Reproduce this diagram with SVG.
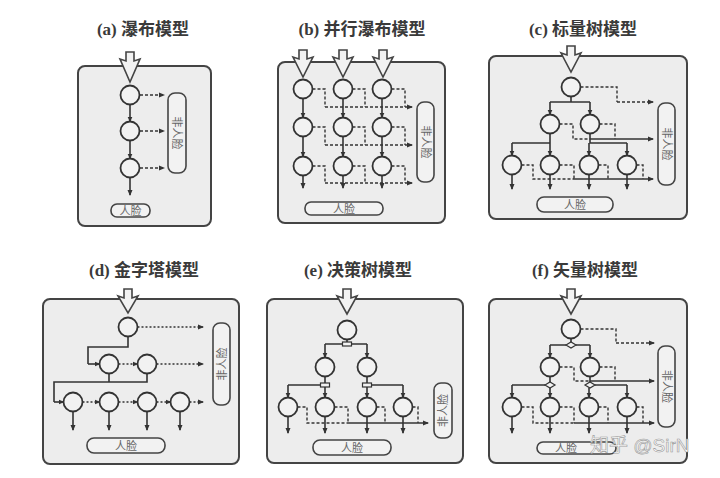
<svg xmlns="http://www.w3.org/2000/svg" width="720" height="478" viewBox="0 0 720 478">
<style>
.bg{fill:#ffffff}
.box{fill:#ededed;stroke:#444;stroke-width:2}
.n{fill:#f2f2f2;stroke:#333;stroke-width:1.8}
.s{stroke:#333;stroke-width:1.6;fill:none}
.d{stroke:#333;stroke-width:1.4;stroke-dasharray:3 2;fill:none}
.o{stroke:#333;stroke-width:1.4;stroke-dasharray:2 2;fill:none}
.lb{fill:#f2f2f2;stroke:#444;stroke-width:1.6}
.fa{fill:#f2f2f2;stroke:#444;stroke-width:1.6;stroke-linejoin:miter}
.gate{fill:#f2f2f2;stroke:#333;stroke-width:1.2}
.title{font-family:"Liberation Serif","Noto Sans CJK SC",serif;font-size:17px;font-weight:bold;fill:#3a3a3a;text-anchor:middle}
.lt{font-family:"Liberation Sans","Noto Sans CJK SC",sans-serif;font-size:11px;fill:#666;text-anchor:middle;dominant-baseline:central}
.wm{font-family:"Liberation Sans","Noto Sans CJK SC",sans-serif;font-size:19px;fill:#ffffff;stroke:#999;stroke-width:0.6}
</style>
<defs>
<marker id="ah" markerWidth="6" markerHeight="6" refX="5" refY="3" orient="auto" markerUnits="userSpaceOnUse"><path d="M0,0.5 L6,3 L0,5.5z" fill="#333"/></marker>
</defs>
<rect class="bg" x="0" y="0" width="720" height="478"/>

<!-- Titles -->
<text class="title" x="143" y="35">(a) 瀑布模型</text>
<text class="title" x="362" y="35">(b) 并行瀑布模型</text>
<text class="title" x="583" y="35">(c) 标量树模型</text>
<text class="title" x="144" y="276">(d) 金字塔模型</text>
<text class="title" x="358" y="276">(e) 决策树模型</text>
<text class="title" x="585" y="276">(f) 矢量树模型</text>

<!-- ===== (a) ===== -->
<g id="panel-a">
<rect class="box" x="78" y="66" width="133" height="160" rx="7"/>
<polygon class="fa" points="126,52 134,52 134,61 140,59 130,82 120,59 126,61"/>
<g id="a-connectors">
<line class="s" x1="130" y1="104.5" x2="130" y2="121.5" marker-end="url(#ah)"/>
<line class="s" x1="130" y1="140.5" x2="130" y2="158.5" marker-end="url(#ah)"/>
<line class="s" x1="130" y1="177.5" x2="130" y2="195" marker-end="url(#ah)"/>
<line class="d" x1="140" y1="95" x2="164" y2="95" marker-end="url(#ah)"/>
<line class="d" x1="140" y1="131" x2="164" y2="131" marker-end="url(#ah)"/>
<line class="d" x1="140" y1="168" x2="164" y2="168" marker-end="url(#ah)"/>
</g>
<g id="a-n1"><circle class="n" cx="130" cy="95" r="9.5"/></g>
<g id="a-n2"><circle class="n" cx="130" cy="131" r="9.5"/></g>
<g id="a-n3"><circle class="n" cx="130" cy="168" r="9.5"/></g>
<g id="a-nonface"><rect class="lb" x="168" y="93" width="18" height="80" rx="7"/><text class="lt" transform="translate(177,133) rotate(90)">非人脸</text></g>
<g id="a-face"><rect class="lb" x="111" y="204" width="39" height="13" rx="6"/><text class="lt" x="130.5" y="210.5">人脸</text></g>
</g>

<!-- ===== (b) ===== -->
<g id="panel-b">
<rect class="box" x="278" y="62" width="167" height="161" rx="7"/>
<polygon class="fa" points="299,50 307,50 307,59 313,57 303,77 293,57 299,59"/>
<polygon class="fa" points="339,50 347,50 347,59 353,57 343,77 333,57 339,59"/>
<polygon class="fa" points="379,50 387,50 387,59 393,57 383,77 373,57 379,59"/>
<g id="b-connectors">
<line class="s" x1="303" y1="98.5" x2="303" y2="117.5" marker-end="url(#ah)"/>
<line class="s" x1="303" y1="136.5" x2="303" y2="156.5" marker-end="url(#ah)"/>
<line class="s" x1="303" y1="175.5" x2="303" y2="188" marker-end="url(#ah)"/>
<line class="s" x1="343" y1="98.5" x2="343" y2="117.5" marker-end="url(#ah)"/>
<line class="s" x1="343" y1="136.5" x2="343" y2="156.5" marker-end="url(#ah)"/>
<line class="s" x1="343" y1="175.5" x2="343" y2="188" marker-end="url(#ah)"/>
<line class="s" x1="382" y1="98.5" x2="382" y2="117.5" marker-end="url(#ah)"/>
<line class="s" x1="382" y1="136.5" x2="382" y2="156.5" marker-end="url(#ah)"/>
<line class="s" x1="382" y1="175.5" x2="382" y2="188" marker-end="url(#ah)"/>
<path class="d" d="M312.5,89 H325 V107 M352.5,89 H365 V107 M391.5,89 H405 V107"/>
<line class="d" x1="325" y1="107" x2="412" y2="107" marker-end="url(#ah)"/>
<path class="d" d="M312.5,127 H325 V145 M352.5,127 H365 V145 M391.5,127 H405 V145"/>
<line class="d" x1="325" y1="145" x2="412" y2="145" marker-end="url(#ah)"/>
<path class="d" d="M312.5,166 H325 V183 M352.5,166 H365 V183 M391.5,166 H405 V183"/>
<line class="d" x1="325" y1="183" x2="412" y2="183" marker-end="url(#ah)"/>
</g>
<g id="b-n11"><circle class="n" cx="303" cy="89" r="9.5"/></g>
<g id="b-n12"><circle class="n" cx="343" cy="89" r="9.5"/></g>
<g id="b-n13"><circle class="n" cx="382" cy="89" r="9.5"/></g>
<g id="b-n21"><circle class="n" cx="303" cy="127" r="9.5"/></g>
<g id="b-n22"><circle class="n" cx="343" cy="127" r="9.5"/></g>
<g id="b-n23"><circle class="n" cx="382" cy="127" r="9.5"/></g>
<g id="b-n31"><circle class="n" cx="303" cy="166" r="9.5"/></g>
<g id="b-n32"><circle class="n" cx="343" cy="166" r="9.5"/></g>
<g id="b-n33"><circle class="n" cx="382" cy="166" r="9.5"/></g>
<g id="b-nonface"><rect class="lb" x="417" y="102" width="17" height="80" rx="7"/><text class="lt" transform="translate(425.5,142) rotate(90)">非人脸</text></g>
<g id="b-face"><rect class="lb" x="305" y="202" width="78" height="13" rx="6"/><text class="lt" x="344" y="208.5">人脸</text></g>
</g>

<!-- ===== (c) ===== -->
<g id="panel-c">
<rect class="box" x="489" y="56" width="198" height="163" rx="7"/>
<polygon class="fa" points="567,46 575,46 575,55 581,53 571,72 561,53 567,55"/>
<g id="c-connectors">
<path class="s" d="M571,96.5 V102 M550,102 H590 M550,133.5 V143 M512,143 H550 M590,133.5 V143 H627"/>
<line class="s" x1="550" y1="102" x2="550" y2="114.5" marker-end="url(#ah)"/>
<line class="s" x1="590" y1="102" x2="590" y2="114.5" marker-end="url(#ah)"/>
<line class="s" x1="512" y1="143" x2="512" y2="155.5" marker-end="url(#ah)"/>
<line class="s" x1="550" y1="143" x2="550" y2="155.5" marker-end="url(#ah)"/>
<line class="s" x1="589" y1="143" x2="589" y2="155.5" marker-end="url(#ah)"/>
<line class="s" x1="627" y1="143" x2="627" y2="155.5" marker-end="url(#ah)"/>
<path class="d" d="M580.5,87 H617 V102"/>
<line class="d" x1="617" y1="102" x2="653" y2="102" marker-end="url(#ah)"/>
<path class="d" d="M559.5,124 H573 V139 H590 M599.5,124 H615 V139"/>
<line class="s" x1="590" y1="139" x2="653" y2="139" marker-end="url(#ah)"/>
<path class="d" d="M521.5,165 H533 V179 H574 M559.5,165 H574 V179 M598.5,165 H608 V179 M636.5,165 H643 V179"/>
<line class="s" x1="574" y1="179" x2="653" y2="179" marker-end="url(#ah)"/>
<line class="s" x1="512" y1="174.5" x2="512" y2="189" marker-end="url(#ah)"/>
<line class="s" x1="550" y1="174.5" x2="550" y2="189" marker-end="url(#ah)"/>
<line class="s" x1="589" y1="174.5" x2="589" y2="189" marker-end="url(#ah)"/>
<line class="s" x1="627" y1="174.5" x2="627" y2="189" marker-end="url(#ah)"/>
</g>
<g id="c-root"><circle class="n" cx="571" cy="87" r="9.5"/></g>
<g id="c-l2a"><circle class="n" cx="550" cy="124" r="9.5"/></g>
<g id="c-l2b"><circle class="n" cx="590" cy="124" r="9.5"/></g>
<g id="c-l3a"><circle class="n" cx="512" cy="165" r="9.5"/></g>
<g id="c-l3b"><circle class="n" cx="550" cy="165" r="9.5"/></g>
<g id="c-l3c"><circle class="n" cx="589" cy="165" r="9.5"/></g>
<g id="c-l3d"><circle class="n" cx="627" cy="165" r="9.5"/></g>
<g id="c-nonface"><rect class="lb" x="658" y="103" width="17" height="82" rx="7"/><text class="lt" transform="translate(666.5,144) rotate(90)">非人脸</text></g>
<g id="c-face"><rect class="lb" x="537" y="197" width="76" height="15" rx="7"/><text class="lt" x="575" y="204.5">人脸</text></g>
</g>

<!-- ===== (d) ===== -->
<g id="panel-d">
<rect class="box" x="43" y="299" width="196" height="165" rx="7"/>
<polygon class="fa" points="124,289 132,289 132,298 138,296 128,313 118,296 124,298"/>
<g id="d-connectors">
<path class="s" d="M128,336.5 V347 H88 V364"/>
<line class="s" x1="88" y1="364" x2="99.5" y2="364" marker-end="url(#ah)"/>
<path class="s" d="M109,373.5 V382 M147,373.5 V382 H54 V402"/>
<line class="s" x1="54" y1="402" x2="63.5" y2="402" marker-end="url(#ah)"/>
<line class="o" x1="137.5" y1="327" x2="203" y2="327" marker-end="url(#ah)"/>
<line class="o" x1="118.5" y1="364" x2="137.5" y2="364" marker-end="url(#ah)"/>
<line class="o" x1="156.5" y1="364" x2="203" y2="364" marker-end="url(#ah)"/>
<line class="o" x1="82.5" y1="402" x2="99.5" y2="402" marker-end="url(#ah)"/>
<line class="o" x1="118.5" y1="402" x2="137.5" y2="402" marker-end="url(#ah)"/>
<line class="o" x1="156.5" y1="402" x2="170.5" y2="402" marker-end="url(#ah)"/>
<line class="o" x1="189.5" y1="402" x2="203" y2="402" marker-end="url(#ah)"/>
<line class="s" x1="73" y1="411.5" x2="73" y2="430" marker-end="url(#ah)"/>
<line class="s" x1="109" y1="411.5" x2="109" y2="430" marker-end="url(#ah)"/>
<line class="s" x1="147" y1="411.5" x2="147" y2="430" marker-end="url(#ah)"/>
<line class="s" x1="180" y1="411.5" x2="180" y2="430" marker-end="url(#ah)"/>
</g>
<g id="d-root"><circle class="n" cx="128" cy="327" r="9.5"/></g>
<g id="d-l2a"><circle class="n" cx="109" cy="364" r="9.5"/></g>
<g id="d-l2b"><circle class="n" cx="147" cy="364" r="9.5"/></g>
<g id="d-l3a"><circle class="n" cx="73" cy="402" r="9.5"/></g>
<g id="d-l3b"><circle class="n" cx="109" cy="402" r="9.5"/></g>
<g id="d-l3c"><circle class="n" cx="147" cy="402" r="9.5"/></g>
<g id="d-l3d"><circle class="n" cx="180" cy="402" r="9.5"/></g>
<g id="d-nonface"><rect class="lb" x="213" y="323" width="17" height="82" rx="7"/><text class="lt" transform="translate(221.5,364) rotate(-90)">非人脸</text></g>
<g id="d-face"><rect class="lb" x="87" y="438" width="78" height="15" rx="7"/><text class="lt" x="126" y="445.5">人脸</text></g>
</g>

<!-- ===== (e) ===== -->
<g id="panel-e">
<rect class="box" x="267" y="299" width="196" height="164" rx="7"/>
<polygon class="fa" points="343,289 351,289 351,298 357,296 347,314 337,296 343,298"/>
<g id="e-connectors">
<path class="s" d="M347,339.5 V342 M325,344 H342.5 M351.5,344 H367"/>
<line class="s" x1="325" y1="344" x2="325" y2="357.5" marker-end="url(#ah)"/>
<line class="s" x1="367" y1="344" x2="367" y2="357.5" marker-end="url(#ah)"/>
<path class="s" d="M325,376.5 V383 M288,385 H320.5 M367,376.5 V383 M371.5,385 H403"/>
<line class="s" x1="288" y1="385" x2="288" y2="397.5" marker-end="url(#ah)"/>
<line class="s" x1="325" y1="387" x2="325" y2="397.5" marker-end="url(#ah)"/>
<line class="s" x1="367" y1="387" x2="367" y2="397.5" marker-end="url(#ah)"/>
<line class="s" x1="403" y1="385" x2="403" y2="397.5" marker-end="url(#ah)"/>
<path class="d" d="M297.5,407 H307 V423 H348 M334.5,407 H348 V423 M376.5,407 H385 V423 M412.5,407 H418 V423"/>
<line class="s" x1="348" y1="423" x2="428" y2="423" marker-end="url(#ah)"/>
<line class="s" x1="288" y1="416.5" x2="288" y2="433" marker-end="url(#ah)"/>
<line class="s" x1="325" y1="416.5" x2="325" y2="433" marker-end="url(#ah)"/>
<line class="s" x1="367" y1="416.5" x2="367" y2="433" marker-end="url(#ah)"/>
<line class="s" x1="403" y1="416.5" x2="403" y2="433" marker-end="url(#ah)"/>
</g>
<g id="e-g1"><rect class="gate" x="342.5" y="342" width="9" height="4"/></g>
<g id="e-g2"><rect class="gate" x="320.5" y="383" width="9" height="4"/></g>
<g id="e-g3"><rect class="gate" x="362.5" y="383" width="9" height="4"/></g>
<g id="e-root"><circle class="n" cx="347" cy="330" r="9.5"/></g>
<g id="e-l2a"><circle class="n" cx="325" cy="367" r="9.5"/></g>
<g id="e-l2b"><circle class="n" cx="367" cy="367" r="9.5"/></g>
<g id="e-l3a"><circle class="n" cx="288" cy="407" r="9.5"/></g>
<g id="e-l3b"><circle class="n" cx="325" cy="407" r="9.5"/></g>
<g id="e-l3c"><circle class="n" cx="367" cy="407" r="9.5"/></g>
<g id="e-l3d"><circle class="n" cx="403" cy="407" r="9.5"/></g>
<g id="e-nonface"><rect class="lb" x="434" y="383" width="18" height="55" rx="7"/><text class="lt" transform="translate(443,410.5) rotate(-90)">非人脸</text></g>
<g id="e-face"><rect class="lb" x="313" y="440" width="78" height="15" rx="7"/><text class="lt" x="352" y="447.5">人脸</text></g>
</g>

<!-- ===== (f) ===== -->
<g id="panel-f">
<rect class="box" x="489" y="299" width="198" height="164" rx="7"/>
<polygon class="fa" points="567,289 575,289 575,298 581,296 571,314 561,296 567,298"/>
<g id="f-connectors">
<path class="s" d="M571,338.5 V342 M550,345 H566 M576,345 H590"/>
<line class="s" x1="550" y1="345" x2="550" y2="357.5" marker-end="url(#ah)"/>
<line class="s" x1="590" y1="345" x2="590" y2="357.5" marker-end="url(#ah)"/>
<path class="s" d="M550,376.5 V382 M512,385 H545 M590,376.5 V382 M595,385 H627"/>
<line class="s" x1="512" y1="385" x2="512" y2="397.5" marker-end="url(#ah)"/>
<line class="s" x1="550" y1="388" x2="550" y2="397.5" marker-end="url(#ah)"/>
<line class="s" x1="589" y1="388" x2="589" y2="397.5" marker-end="url(#ah)"/>
<line class="s" x1="627" y1="385" x2="627" y2="397.5" marker-end="url(#ah)"/>
<path class="d" d="M580.5,329 H616 V343"/>
<line class="d" x1="616" y1="343" x2="654" y2="343" marker-end="url(#ah)"/>
<path class="d" d="M559.5,367 H574 V381 H590 M599.5,367 H615 V381"/>
<line class="s" x1="590" y1="381" x2="654" y2="381" marker-end="url(#ah)"/>
<path class="d" d="M521.5,407 H533 V423 H574 M559.5,407 H574 V423 M598.5,407 H608 V423 M636.5,407 H643 V423"/>
<line class="s" x1="574" y1="423" x2="654" y2="423" marker-end="url(#ah)"/>
<line class="s" x1="512" y1="416.5" x2="512" y2="433" marker-end="url(#ah)"/>
<line class="s" x1="550" y1="416.5" x2="550" y2="433" marker-end="url(#ah)"/>
<line class="s" x1="589" y1="416.5" x2="589" y2="433" marker-end="url(#ah)"/>
<line class="s" x1="627" y1="416.5" x2="627" y2="433" marker-end="url(#ah)"/>
</g>
<g id="f-g1"><polygon class="gate" points="566,345 571,342 576,345 571,348"/></g>
<g id="f-g2"><polygon class="gate" points="545,385 550,382 555,385 550,388"/></g>
<g id="f-g3"><polygon class="gate" points="585,385 590,382 595,385 590,388"/></g>
<g id="f-root"><circle class="n" cx="571" cy="329" r="9.5"/></g>
<g id="f-l2a"><circle class="n" cx="550" cy="367" r="9.5"/></g>
<g id="f-l2b"><circle class="n" cx="590" cy="367" r="9.5"/></g>
<g id="f-l3a"><circle class="n" cx="512" cy="407" r="9.5"/></g>
<g id="f-l3b"><circle class="n" cx="550" cy="407" r="9.5"/></g>
<g id="f-l3c"><circle class="n" cx="589" cy="407" r="9.5"/></g>
<g id="f-l3d"><circle class="n" cx="627" cy="407" r="9.5"/></g>
<g id="f-nonface"><rect class="lb" x="658" y="346" width="17" height="81" rx="7"/><text class="lt" transform="translate(666.5,386.5) rotate(90)">非人脸</text></g>
<g id="f-face"><rect class="lb" x="537" y="442" width="79" height="12" rx="6"/><text class="lt" x="566" y="448">人脸</text></g>
</g>

<text class="wm" x="590" y="452">知乎 @SirN</text>
</svg>
